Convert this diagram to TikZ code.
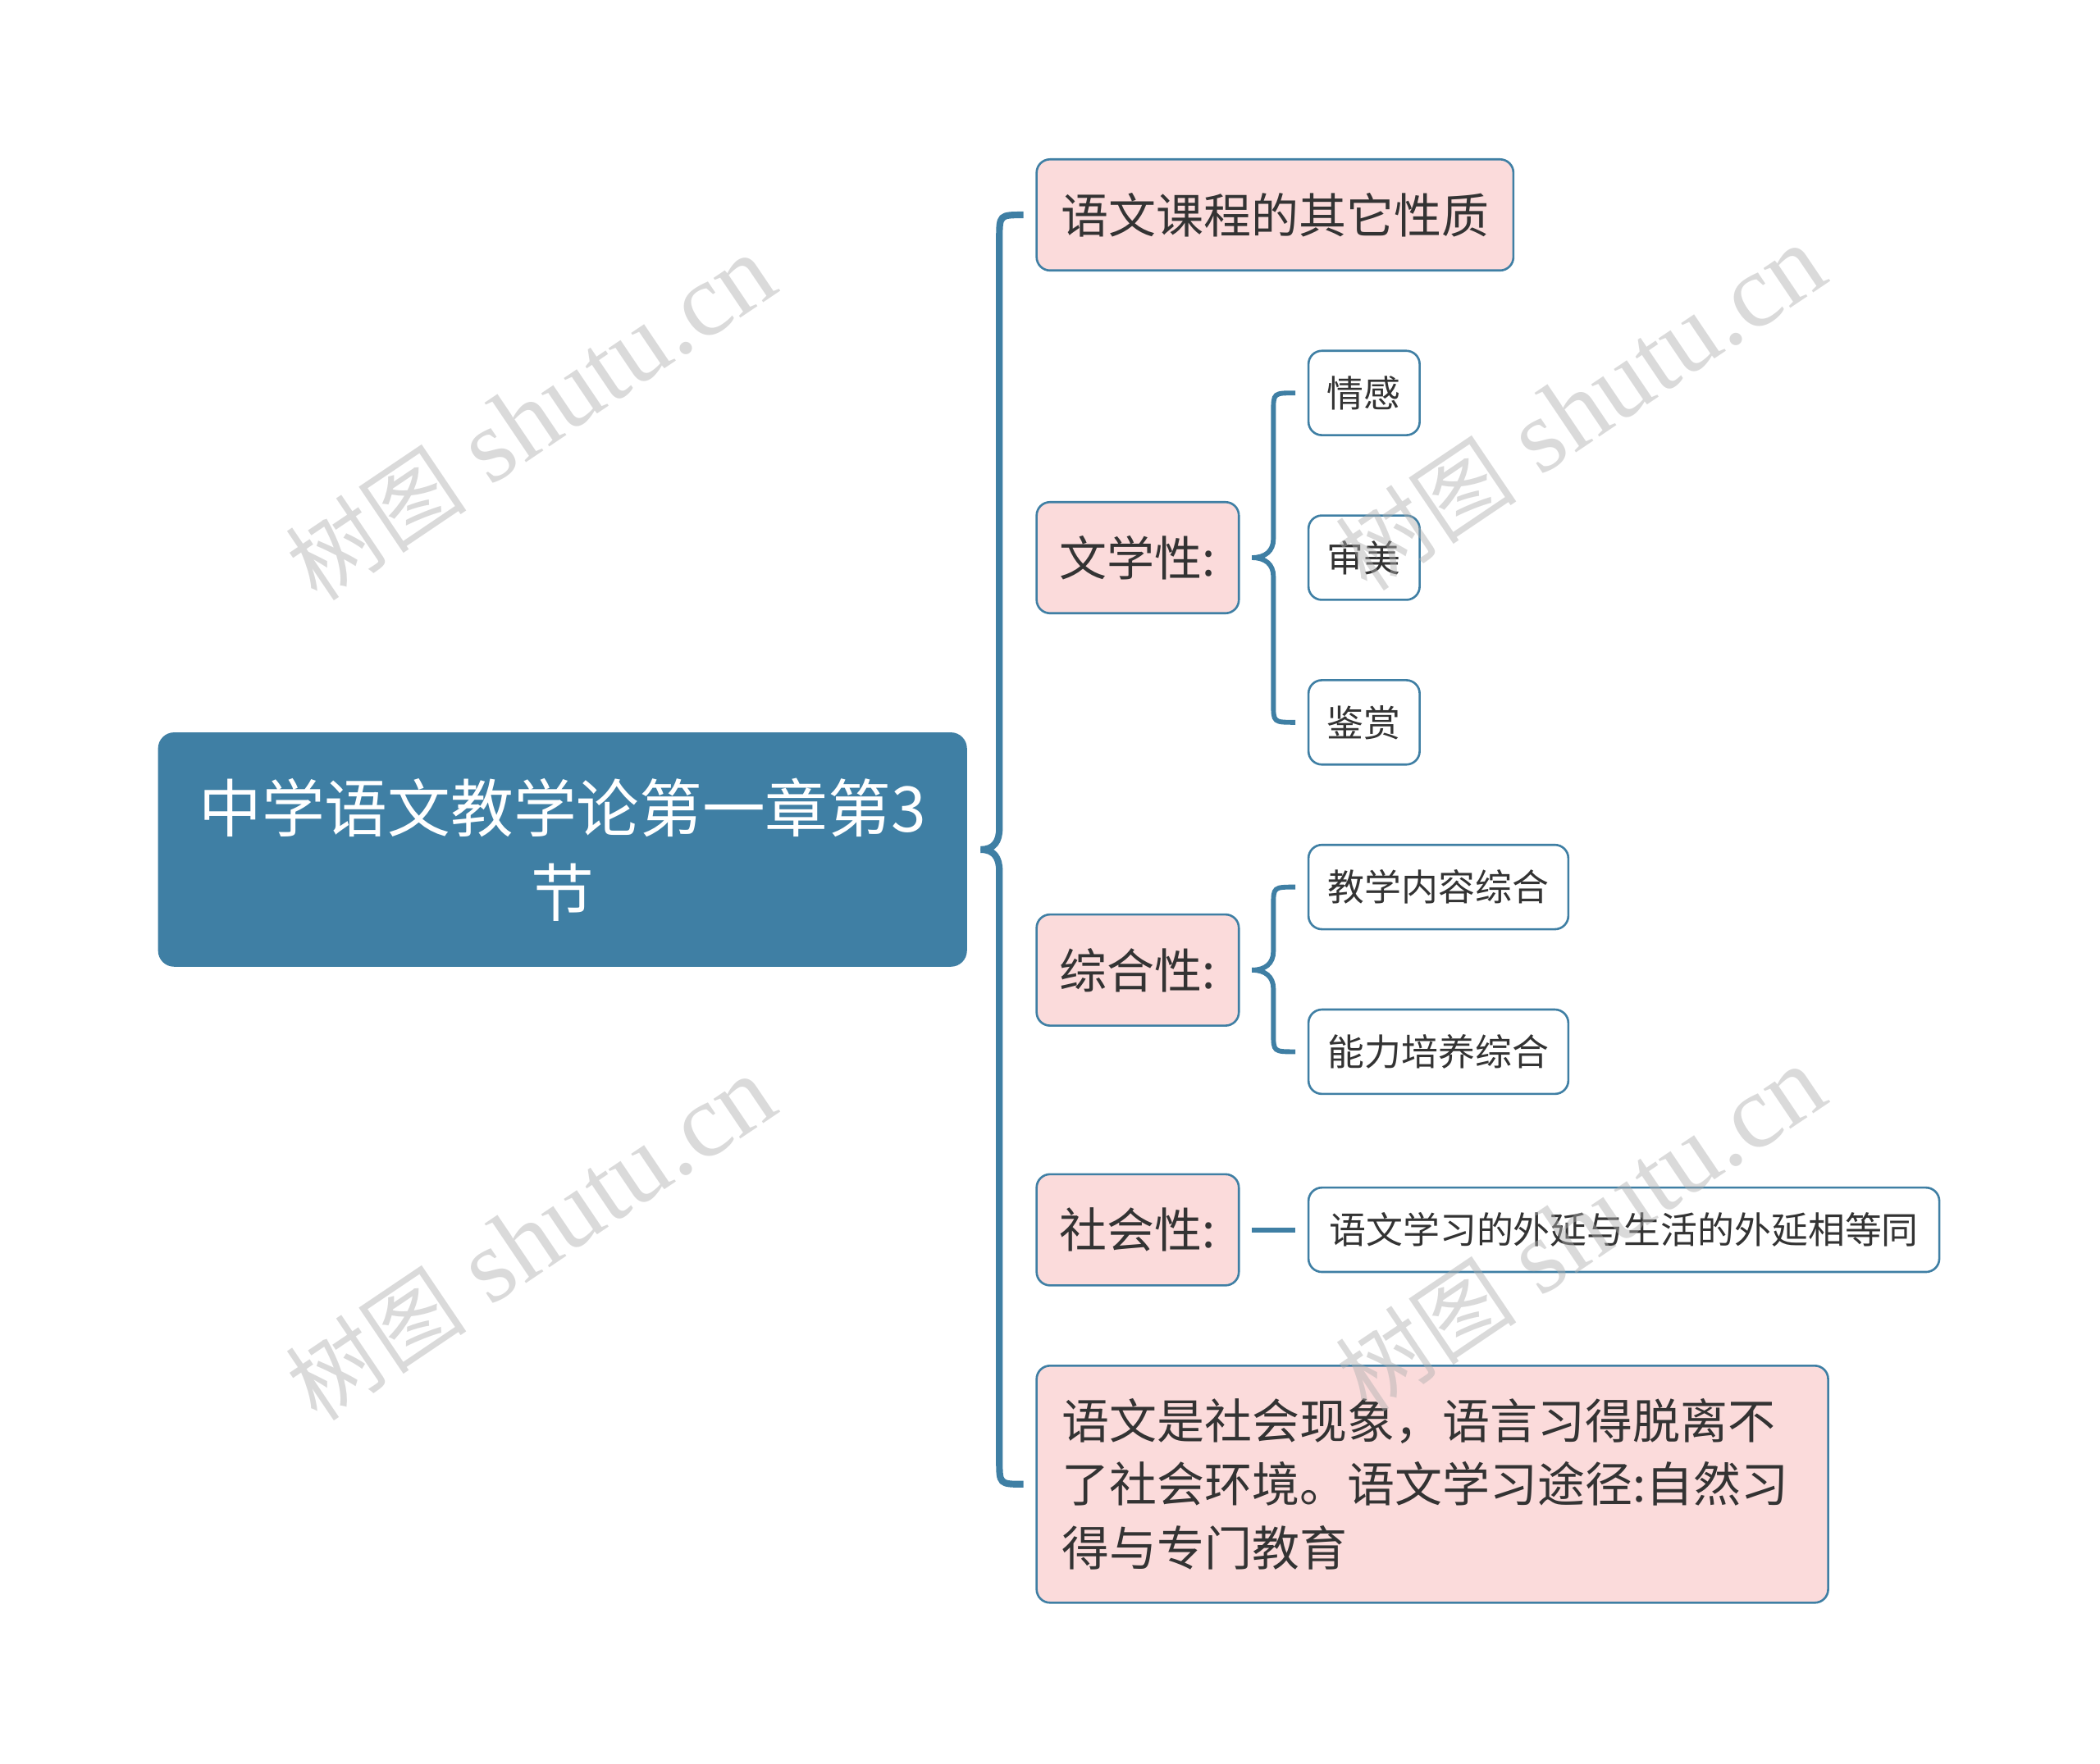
\documentclass[tikz,border=0pt]{standalone}
\usepackage{fontspec}
\newfontfamily\cjk{Noto Sans CJK SC}
\newfontfamily\wmfont{Liberation Serif}
\usetikzlibrary{calc}
\definecolor{mainblue}{RGB}{63,127,164}
\definecolor{pinkfill}{RGB}{251,219,219}
\definecolor{txt}{RGB}{51,51,51}
\definecolor{wmgray}{RGB}{175,175,175}
\begin{document}
\begin{tikzpicture}[x=1pt,y=-1pt,
  rootbox/.style={rectangle, rounded corners=12pt, fill=mainblue, draw=none, text=white,
    font=\cjk\fontsize{47}{63}\selectfont, align=center, inner sep=0pt},
  pinkbox/.style={rectangle, rounded corners=10pt, draw=mainblue, line width=1.6pt, fill=pinkfill,
    text=txt, font=\cjk\fontsize{35.5}{47.5}\selectfont, inner sep=0pt, minimum height=83pt},
  leafbox/.style={rectangle, rounded corners=10pt, draw=mainblue, line width=1.6pt, fill=white,
    text=txt, font=\cjk\fontsize{27.5}{33}\selectfont, inner sep=0pt, minimum height=63pt},
  trunk/.style={draw=mainblue, line width=5pt},
  brace/.style={draw=mainblue, line width=3.6pt},
  wm/.style={text=wmgray, text opacity=0.45, inner sep=0pt}
]
\useasboundingbox (0,0) rectangle (1568,1317);
\fill[white] (0,0) rectangle (1568,1317);

% root
\node[rootbox, minimum width=604pt, minimum height=175pt] (root) at (420,634.5)
  {中学语文教学论第一章第3\\节};

% children
\node[pinkbox, minimum width=356pt] (c1) at (952,160.5) {语文课程的其它性质};
\node[pinkbox, minimum width=151pt] (c2) at (849.5,416.5) {文学性:};
\node[pinkbox, minimum width=151pt] (c3) at (849.5,724.5) {综合性:};
\node[pinkbox, minimum width=151pt] (c4) at (849.5,918.5) {社会性:};
\node[pinkbox, minimum width=591pt, minimum height=177pt, text width=553pt, align=left] (c5) at (1069.5,1108.5)
  {语文是社会现象，语言习得脱离不\\了社会环境。语文学习途径:自然习\\得与专门教育};

% grandchildren
\node[leafbox, minimum width=83pt] (g1) at (1018.5,293.5) {情感};
\node[leafbox, minimum width=83pt] (g2) at (1018.5,416.5) {审美};
\node[leafbox, minimum width=83pt] (g3) at (1018.5,539.5) {鉴赏};
\node[leafbox, minimum width=194pt] (g4) at (1074,662.5) {教学内容综合};
\node[leafbox, minimum width=194pt] (g5) at (1074,785.5) {能力培养综合};
\node[leafbox, minimum width=471pt] (g6) at (1212.5,918.5) {语文学习的外延与生活的外延相等同};

% main brace
\coordinate (cusp) at ($(root.east)+(10,0)$);
\coordinate (tx) at ($(root.east)+(24,0)$);
\draw[trunk] (cusp) .. controls ($(cusp)+(10,0)$) and ($(tx)+(0,-6)$) .. ($(tx)+(0,-16)$)
  -- ($(tx |- c1.west)+(0,18)$) .. controls (tx |- c1.west) .. ([xshift=-9pt]c1.west);
\draw[trunk] (cusp) .. controls ($(cusp)+(10,0)$) and ($(tx)+(0,6)$) .. ($(tx)+(0,16)$)
  -- ($(tx |- c5.west)+(0,-18)$) .. controls (tx |- c5.west) .. ([xshift=-9pt]c5.west);

% brace of c2
\coordinate (cuspA) at ($(c2.east)+(9,0)$);
\coordinate (bxA) at ($(c2.east)+(25,0)$);
\draw[brace] (cuspA) .. controls ($(cuspA)+(10,0)$) and ($(bxA)+(0,-5)$) .. ($(bxA)+(0,-14)$)
  -- ($(bxA |- g1.west)+(0,14)$) .. controls (bxA |- g1.west) .. ([xshift=-9pt]g1.west);
\draw[brace] (cuspA) .. controls ($(cuspA)+(10,0)$) and ($(bxA)+(0,5)$) .. ($(bxA)+(0,14)$)
  -- ($(bxA |- g3.west)+(0,-14)$) .. controls (bxA |- g3.west) .. ([xshift=-9pt]g3.west);

% brace of c3
\coordinate (cuspB) at ($(c3.east)+(9,0)$);
\coordinate (bxB) at ($(c3.east)+(25,0)$);
\draw[brace] (cuspB) .. controls ($(cuspB)+(10,0)$) and ($(bxB)+(0,-5)$) .. ($(bxB)+(0,-14)$)
  -- ($(bxB |- g4.west)+(0,14)$) .. controls (bxB |- g4.west) .. ([xshift=-9pt]g4.west);
\draw[brace] (cuspB) .. controls ($(cuspB)+(10,0)$) and ($(bxB)+(0,5)$) .. ($(bxB)+(0,14)$)
  -- ($(bxB |- g5.west)+(0,-14)$) .. controls (bxB |- g5.west) .. ([xshift=-9pt]g5.west);

% c4 line
\draw[brace] ([xshift=9pt]c4.east) -- ([xshift=-9pt]g6.west);

% watermarks
\foreach \p/\n in {{(396,312)}/wmA,{(396,925)}/wmB,{(1180,305)}/wmC,{(1180,918)}/wmD}{
  \node[wm, rotate=34] (\n) at \p {\cjk\fontsize{68}{68}\selectfont 树图\wmfont\fontsize{78}{78}\selectfont{} shutu.cn};
}
\end{tikzpicture}
\end{document}
